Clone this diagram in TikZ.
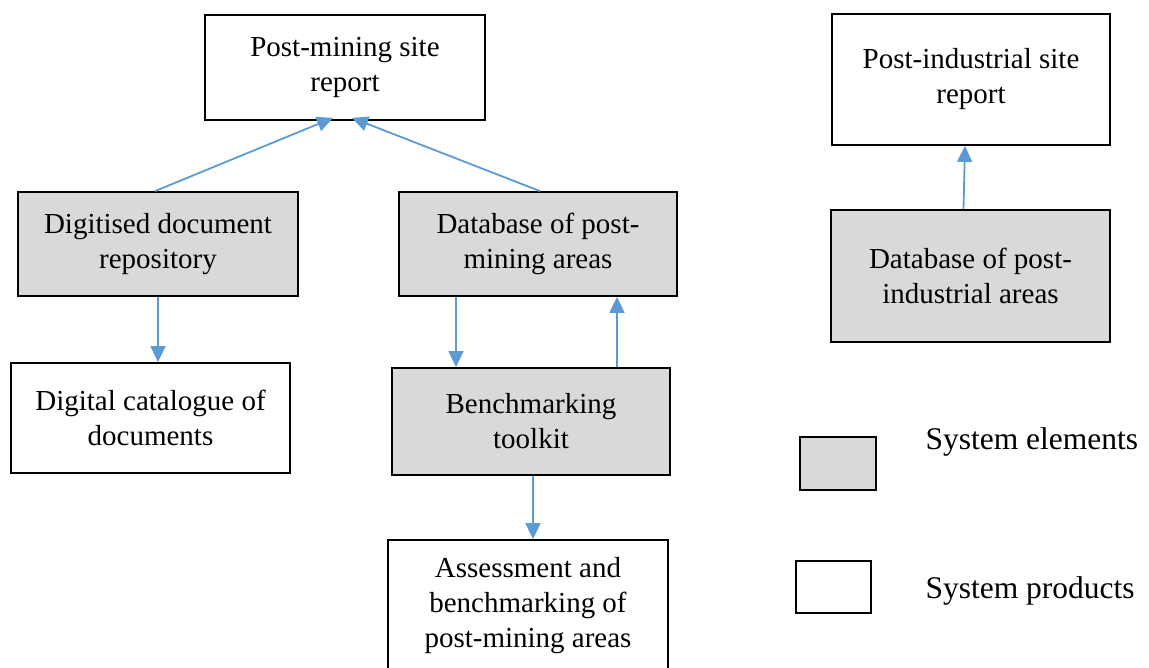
\documentclass[tikz,border=0pt]{standalone}
\usepackage{fontspec}
\setmainfont{Liberation Serif}
\usetikzlibrary{arrows.meta,positioning}

\definecolor{linkblue}{HTML}{5B9BD5}
\definecolor{elemgray}{HTML}{D9D9D9}

\begin{document}
\begin{tikzpicture}[
        x=1pt, y=-1pt,
        box/.style={draw, rectangle, line width=1.8pt, align=center, fill=white, minimum width=280pt, minimum height=105pt, font=\fontsize{29}{35}\selectfont},
        elem/.style={box, fill=elemgray},
        key/.style={draw, rectangle, line width=1.8pt, minimum width=75pt, minimum height=52pt},
        keytext/.style={anchor=west, font=\fontsize{31.5}{36}\selectfont},
        arrow/.style={-{Triangle[length=16pt, width=15pt]}, line width=1.8pt, draw=linkblue}
    ]
        \useasboundingbox (0,0) rectangle (1149,668);

        % Reports
        \node[box] (mine_report) at (345,67.5) {Post-mining site\\report};
        \node[box, minimum width=278pt, minimum height=131pt] (ind_report) at (971,79.5) {Post-industrial site\\report};

        % System elements
        \node[elem, minimum height=104pt] (repository) at (158,244) {Digitised document\\repository};
        \node[elem, minimum width=278pt, minimum height=104pt] (mine_db) at (538,244) {Database of post-\\mining areas};
        \node[elem, minimum width=279pt, minimum height=132pt] (ind_db) at (970.5,276) {Database of post-\\industrial areas};
        \node[elem, minimum width=278pt, minimum height=107pt] (toolkit) at (531,421.5) {Benchmarking\\toolkit};

        % Products
        \node[box, minimum width=279pt, minimum height=110pt] (catalogue) at (150.5,418) {Digital catalogue of\\documents};
        \node[box, minimum height=132pt] (assessment) at (528,606) {Assessment and\\benchmarking of\\post-mining areas};

        % Connections
        \draw[arrow] ([xshift=-3pt]repository.north) -- ([xshift=-12pt, yshift=3pt]mine_report.south);
        \draw[arrow] ([xshift=2pt]mine_db.north) -- ([xshift=7pt, yshift=3pt]mine_report.south);
        \draw[arrow] (repository.south) -- (repository.south |- catalogue.north);
        \draw[arrow] ([xshift=-82pt]mine_db.south) -- ([xshift=-82pt]mine_db.south |- toolkit.north);
        \draw[arrow] ([xshift=86pt]toolkit.north) -- ([xshift=86pt]toolkit.north |- mine_db.south);
        \draw[arrow] ([xshift=2pt]toolkit.south) -- ([xshift=2pt]toolkit.south |- assessment.north);
        \draw[arrow] ([xshift=-7pt]ind_db.north) -- ([xshift=-6pt]ind_report.south);

        % Legend
        \node[key, fill=elemgray, minimum width=76pt, minimum height=53pt] (key_elem) at (838,463.5) {};
        \node[key, fill=white] (key_prod) at (833.5,587) {};
        \node[keytext] (key_elem_text) at (922,442) {System elements};
        \node[keytext] (key_prod_text) at (922,591) {System products};

    \end{tikzpicture}
\end{document}
